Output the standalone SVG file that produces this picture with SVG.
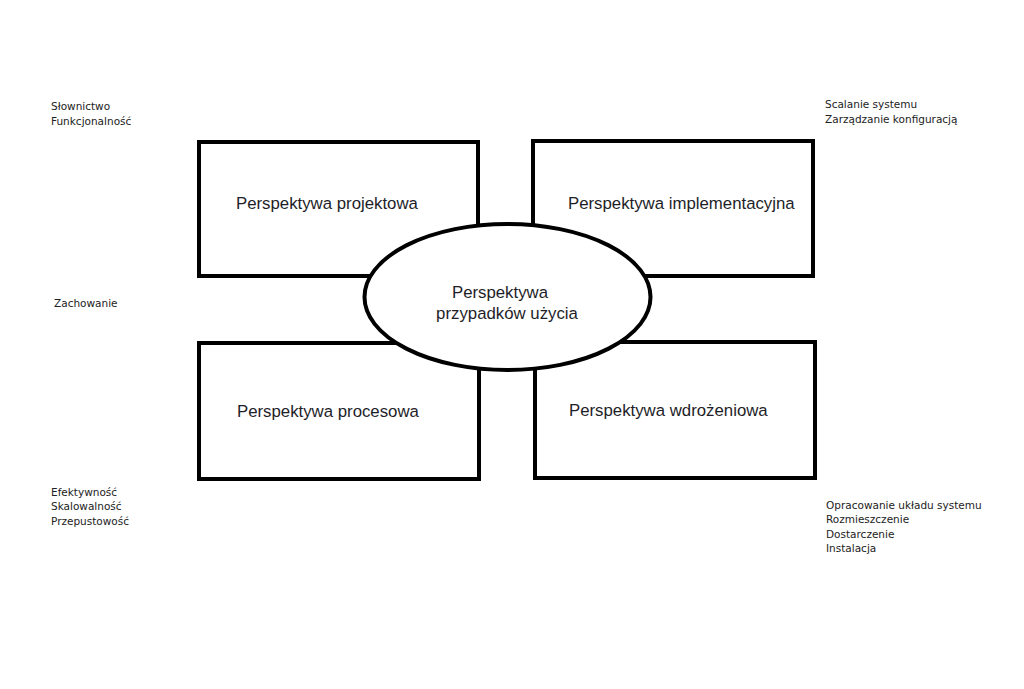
<svg xmlns="http://www.w3.org/2000/svg" width="1024" height="689" viewBox="0 0 1024 689">
<style>
.box{fill:#fff;stroke:#000;stroke-width:4}
.lbl{font-family:"Liberation Sans",Arial,sans-serif;font-size:16.8px;fill:#1e1e28}
.note{font-family:"DejaVu Sans","Noto Sans",sans-serif;font-size:10.5px;fill:#222}
</style>
<rect width="1024" height="689" fill="#fff"/>
<g id="connectors"></g>
<g id="node-projektowa">
<rect class="box" x="199" y="142" width="279" height="134"/>
<text class="lbl" x="236" y="209">Perspektywa projektowa</text>
</g>
<g id="node-implementacyjna">
<rect class="box" x="533" y="141" width="280" height="135"/>
<text class="lbl" x="568" y="209">Perspektywa implementacyjna</text>
</g>
<g id="node-procesowa">
<rect class="box" x="199" y="343" width="280" height="136"/>
<text class="lbl" x="237" y="417">Perspektywa procesowa</text>
</g>
<g id="node-wdrozeniowa">
<rect class="box" x="535" y="342" width="280" height="136"/>
<text class="lbl" x="569" y="416">Perspektywa wdrożeniowa</text>
</g>
<g id="node-przypadkow">
<ellipse class="box" cx="507.5" cy="297" rx="143" ry="73"/>
<text class="lbl" x="500" y="298" text-anchor="middle">Perspektywa</text>
<text class="lbl" x="507" y="319" text-anchor="middle">przypadków użycia</text>
</g>
<g id="notes">
<text class="note" x="51" y="110">Słownictwo</text>
<text class="note" x="51" y="125">Funkcjonalność</text>
<text class="note" x="825" y="108">Scalanie systemu</text>
<text class="note" x="825" y="123">Zarządzanie konfiguracją</text>
<text class="note" x="54" y="307">Zachowanie</text>
<text class="note" x="51" y="496">Efektywność</text>
<text class="note" x="51" y="510">Skalowalność</text>
<text class="note" x="51" y="525">Przepustowość</text>
<text class="note" x="826" y="509">Opracowanie układu systemu</text>
<text class="note" x="826" y="523">Rozmieszczenie</text>
<text class="note" x="826" y="538">Dostarczenie</text>
<text class="note" x="826" y="552">Instalacja</text>
</g>
</svg>
